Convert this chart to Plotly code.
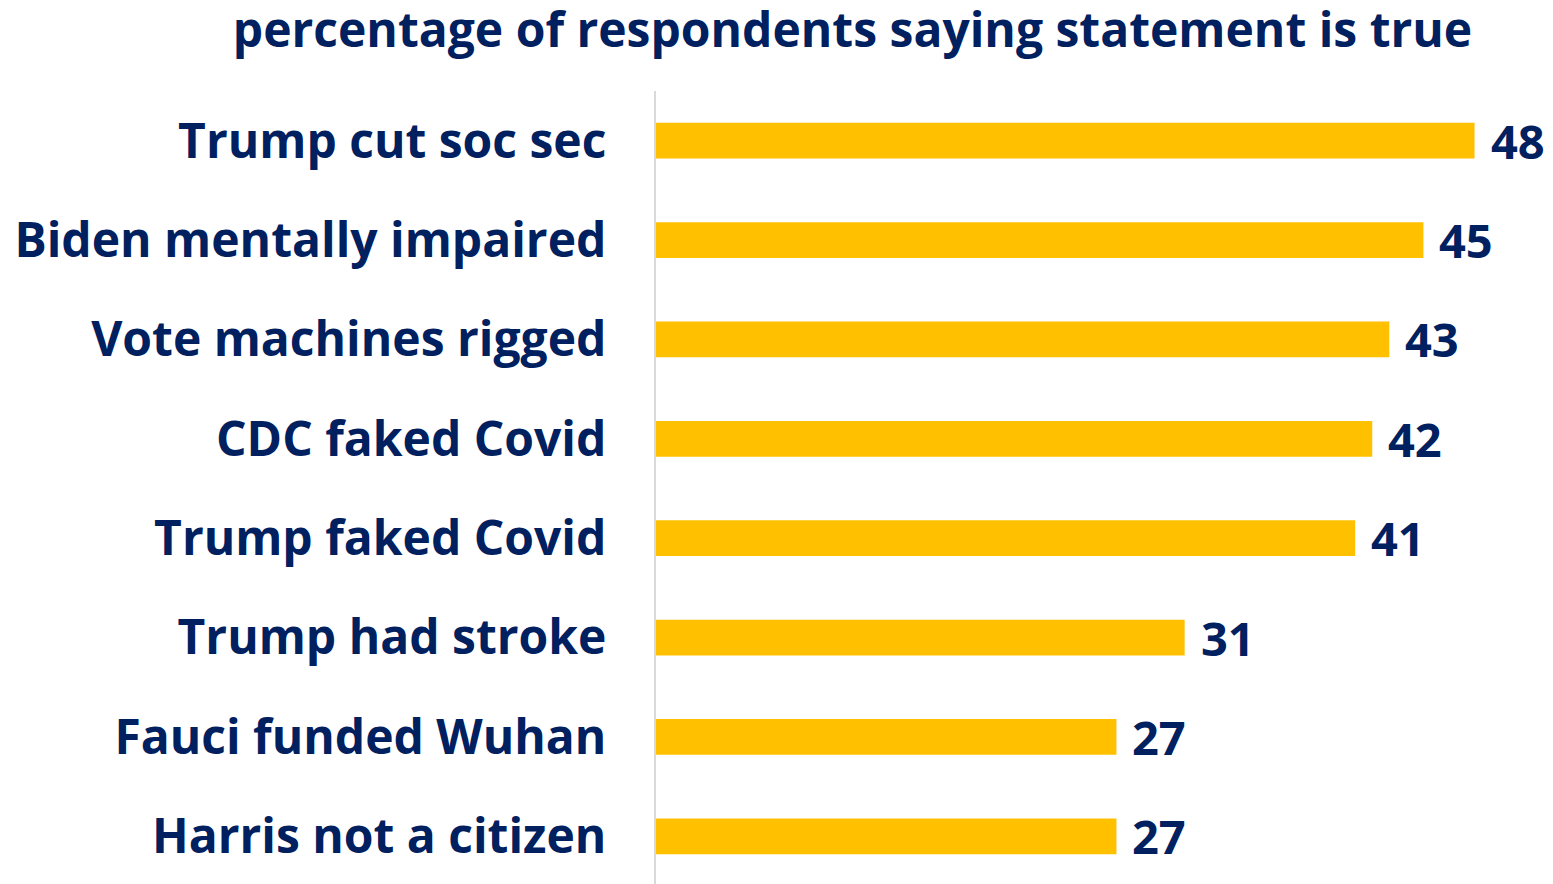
import plotly.graph_objects as go

categories = [
    "Trump cut soc sec",
    "Biden mentally impaired",
    "Vote machines rigged",
    "CDC faked Covid",
    "Trump faked Covid",
    "Trump had stroke",
    "Fauci funded Wuhan",
    "Harris not a citizen",
]
values = [48, 45, 43, 42, 41, 31, 27, 27]
title_text = "percentage of respondents saying statement is true"

NAVY = "#002060"
GOLD = "#FFC000"
FONT = "Open Sans"

W, H = 1545, 876  # page body adds an 8px margin

cats_plot = categories[::-1]
vals_plot = values[::-1]

fig = go.Figure()
fig.add_trace(go.Bar(
    x=vals_plot, y=cats_plot, orientation="h",
    marker=dict(color=GOLD, line=dict(width=0)),
    width=0.36, hoverinfo="skip",
))

for c, v in zip(cats_plot, vals_plot):
    fig.add_annotation(
        x=v, y=c, xref="x", yref="y", text=f"<b>{v}</b>",
        showarrow=False, xanchor="left", yanchor="middle", xshift=14,
        font=dict(family=FONT, size=47, color=NAVY),
    )

fig.update_layout(
    width=W, height=H,
    margin=dict(l=648, r=0, t=83, b=0),
    paper_bgcolor="white", plot_bgcolor="white",
    showlegend=False,
    title=dict(
        text=f"<b>{title_text}</b>",
        x=844.5 / W, xanchor="center", xref="container",
        y=1 - 22 / H, yanchor="middle", yref="container",
        font=dict(family=FONT, size=48, color=NAVY),
    ),
)
fig.update_xaxes(range=[0, 52.6], visible=False, fixedrange=True)
fig.update_yaxes(
    range=[-0.48, 7.5], showline=True, linecolor="#D9D9D9", linewidth=2,
    showgrid=False, zeroline=False, ticks="", ticklabelstandoff=38,
    tickfont=dict(family=FONT, size=48, color=NAVY),
    tickmode="array", tickvals=cats_plot,
    ticktext=[f"<b>{c}</b>" for c in cats_plot],
)

fig.write_html("out.html")
